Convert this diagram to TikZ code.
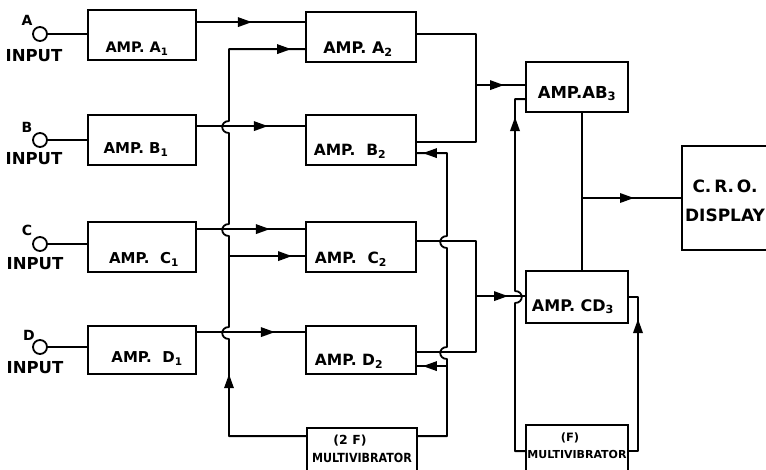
\documentclass[tikz,border=0pt]{standalone}
\usepackage{fontspec}
\newfontfamily\lett{DejaVu Sans}
\newfontfamily\lettn{DejaVu Sans}[FakeStretch=0.88]
\newcommand\lsz[1]{\lett\fontsize{#1}{#1}\selectfont\bfseries}
\newcommand\lszn[1]{\lettn\fontsize{#1}{#1}\selectfont\bfseries}
\usetikzlibrary{arrows.meta,decorations.markings,calc}
\tikzset{
  wire/.style={line width=1.8pt, line join=round},
  box/.style={draw, line width=1.8pt, inner sep=0pt, rectangle},
  inp/.style={draw, circle, line width=1.8pt, minimum size=14pt, inner sep=0pt},
  amp/.style={inner sep=0pt, text height=11.3pt, text depth=0pt, font={\lsz{15.5pt}}},
  big/.style={inner sep=0pt, text height=12.4pt, text depth=0pt, font={\lsz{17pt}}},
  inlbl/.style={inner sep=0pt, text height=12pt, text depth=0pt, font={\lsz{16.5pt}}},
  letr/.style={inner sep=0pt, text height=10.2pt, text depth=0pt, font={\lsz{14pt}}},
  mv/.style={inner sep=0pt, text height=8.7pt, text depth=0pt, font={\lsz{11pt}}},
  arrowat/.style={postaction={decorate,decoration={markings,
      mark=at position #1 with {\arrow{Triangle[length=14pt,width=9.5pt]}}}}},
}
\begin{document}
\begin{tikzpicture}[x=1pt,y=-1pt]
\useasboundingbox (0,0) rectangle (766,469);
\clip (0,0) rectangle (766,469);

% ---------- inputs ----------
\node[inp] (ia) at (40,34) {};
\node[letr] (la) at (27,20) {A};
\node[inlbl] (ta) at (34,55) {INPUT};
\node[inp] (ib) at (40,140) {};
\node[letr] (lb) at (27,127) {B};
\node[inlbl] (tb) at (34,158) {INPUT};
\node[inp] (ic) at (40,244) {};
\node[letr] (lc) at (27,230) {C};
\node[inlbl] (tc) at (35,263) {INPUT};
\node[inp] (id) at (40,347) {};
\node[letr] (ld) at (29,335) {D};
\node[inlbl] (td) at (35,367) {INPUT};

% ---------- boxes ----------
\node[box, minimum width=108pt, minimum height=50pt] (a1) at (142,35) {};
\node[box, minimum width=108pt, minimum height=50pt] (b1) at (142,140) {};
\node[box, minimum width=108pt, minimum height=50pt] (c1) at (142,247) {};
\node[box, minimum width=108pt, minimum height=48pt] (d1) at (142,350) {};
\node[box, minimum width=110pt, minimum height=50pt] (a2) at (361,37) {};
\node[box, minimum width=110pt, minimum height=50pt] (b2) at (361,140) {};
\node[box, minimum width=110pt, minimum height=50pt] (c2) at (361,247) {};
\node[box, minimum width=110pt, minimum height=48pt] (d2) at (361,350) {};
\node[box, minimum width=102pt, minimum height=50pt] (ab3) at (577,87) {};
\node[box, minimum width=102pt, minimum height=52pt] (cd3) at (577,297) {};
\node[box, minimum width=108pt, minimum height=104pt] (cro) at (736,198) {};
\node[box, minimum width=110pt, minimum height=52pt] (m2) at (362,454) {};
\node[box, minimum width=102pt, minimum height=55pt] (m1) at (577,452.5) {};

% ---------- labels ----------
\node[amp, font={\lsz{14.5pt}}] (a1t) at (137,47) {AMP. A\textsubscript{1}};
\node[amp, font={\lsz{15pt}}] (b1t) at (136,148) {AMP. B\textsubscript{1}};
\node[amp, font={\lsz{15pt}}] (c1t) at (144,258) {AMP.\ \ C\textsubscript{1}};
\node[amp, font={\lsz{15pt}}] (d1t) at (147,357) {AMP.\ \ D\textsubscript{1}};
\node[amp, font={\lsz{16pt}}] (a2t) at (358,48) {AMP. A\textsubscript{2}};
\node[amp] (b2t) at (350,150) {AMP.\ \ B\textsubscript{2}};
\node[amp] (c2t) at (351,258) {AMP.\ \ C\textsubscript{2}};
\node[amp] (d2t) at (349,360) {AMP. D\textsubscript{2}};
\node[big, font={\lsz{16.5pt}}] (ab3t) at (577,92) {AMP.AB\textsubscript{3}};
\node[big, font={\lsz{16pt}}] (cd3t) at (573,305) {AMP. CD\textsubscript{3}};
\node[big] (crot) at (725,186) {C.\,R.\,O.};
\node[big] (crod) at (725,215) {DISPLAY};
\node[mv, font={\lsz{12.5pt}}] (m2a) at (350,440) {(2 F)};
\node[mv, font={\lszn{12.6pt}}] (m2b) at (362,458) {MULTIVIBRATOR};
\node[mv, font={\lsz{11.5pt}}] (m1a) at (570,437) {(F)};
\node[mv] (m1b) at (577,454) {MULTIVIBRATOR};

% ---------- ports ----------
\coordinate (a1o) at ([yshift=-13pt]a1.north east);
\coordinate (b1o) at ([yshift=-12pt]b1.north east);
\coordinate (c1o) at ([yshift=-8pt]c1.north east);
\coordinate (d1o) at ([yshift=-7pt]d1.north east);
\coordinate (a2i2) at ([yshift=-38pt]a2.north west);
\coordinate (a2o) at ([yshift=-23pt]a2.north east);
\coordinate (b2o) at ([yshift=-28pt]b2.north east);
\coordinate (b2r) at ([yshift=-39pt]b2.north east);
\coordinate (c2i2) at ([yshift=-35pt]c2.north west);
\coordinate (c2o) at ([yshift=-20pt]c2.north east);
\coordinate (d2o) at ([yshift=-27pt]d2.north east);
\coordinate (d2r) at ([yshift=-41pt]d2.north east);
\coordinate (ab3i1) at ([yshift=-24pt]ab3.north west);
\coordinate (ab3i2) at ([yshift=-38pt]ab3.north west);
\coordinate (cd3i) at ([yshift=-26pt]cd3.north west);
\coordinate (cd3r) at ([yshift=-27pt]cd3.north east);
\coordinate (m2l) at ([yshift=-9pt]m2.north west);
\coordinate (m2r) at ([yshift=-9pt]m2.north east);
\coordinate (m1l) at ([yshift=-27pt]m1.north west);
\coordinate (m1r) at ([yshift=-27pt]m1.north east);
\coordinate (L) at (229,0);
\coordinate (R) at (447,0);
\coordinate (J1) at (476,0);
\coordinate (J2) at (515,0);
\coordinate (J3) at ([xshift=5pt]ab3.south);
\coordinate (J4) at (638,0);

% ---------- input leads ----------
\draw[wire] (ia.east) -- (ia.east -| a1.west);
\draw[wire] (ib.east) -- (ib.east -| b1.west);
\draw[wire] (ic.east) -- (ic.east -| c1.west);
\draw[wire] (id.east) -- (id.east -| d1.west);

% ---------- stage 1 -> stage 2 ----------
\draw[wire,arrowat=55pt] (a1o) -- (a1o -| a2.west);
\draw[wire,arrowat=71pt] (b1o) -- (b1o -| b2.west);
\draw[wire,arrowat=73pt] (c1o) -- (c1o -| c2.west);
\draw[wire,arrowat=78pt] (d1o) -- (d1o -| d2.west);

% ---------- 2F multivibrator, left bus ----------
\draw[wire,arrowat=139pt,arrowat=-14pt] (m2l) -- (m2l -| L) -- (229,339)
  .. controls (220,339) and (220,327) .. (229,327) -- (229,236)
  .. controls (220,236) and (220,224) .. (229,224) -- (229,133)
  .. controls (220,133) and (220,121) .. (229,121) -- (L |- a2i2) -- (a2i2);
\draw[wire,arrowat=63pt] (L |- c2i2) -- (c2i2);

% ---------- 2F multivibrator, right bus ----------
\draw[wire,arrowat=-6pt] (m2r) -- (m2r -| R) -- (447,359)
  .. controls (438,359) and (438,347) .. (447,347) -- (447,248)
  .. controls (438,248) and (438,236) .. (447,236) -- (R |- b2r) -- (b2r);
\draw[wire,arrowat=-6pt] (R |- d2r) -- (d2r);

% ---------- stage 2 -> stage 3 ----------
\draw[wire] (a2o) -- (a2o -| J1) -- (J1 |- b2o) -- (b2o);
\draw[wire,arrowat=28pt] (J1 |- ab3i1) -- (ab3i1);
\draw[wire] (c2o) -- (c2o -| J1) -- (J1 |- d2o) -- (d2o);
\draw[wire,arrowat=32pt] (J1 |- cd3i) -- (cd3i);

% ---------- F multivibrator ----------
\draw[wire,arrowat=-28pt] (m1l) -- (m1l -| J2) -- (515,303)
  .. controls (524,303) and (524,291) .. (515,291) -- (J2 |- ab3i2) -- (ab3i2);
\draw[wire,arrowat=-31pt] (m1r) -- (m1r -| J4) -- (J4 |- cd3r) -- (cd3r);

% ---------- stage 3 -> display ----------
\draw[wire] (J3) -- (J3 |- cd3.north);
\draw[wire,arrowat=52pt] (J3 |- cro.west) -- (cro.west);
\end{tikzpicture}
\end{document}
